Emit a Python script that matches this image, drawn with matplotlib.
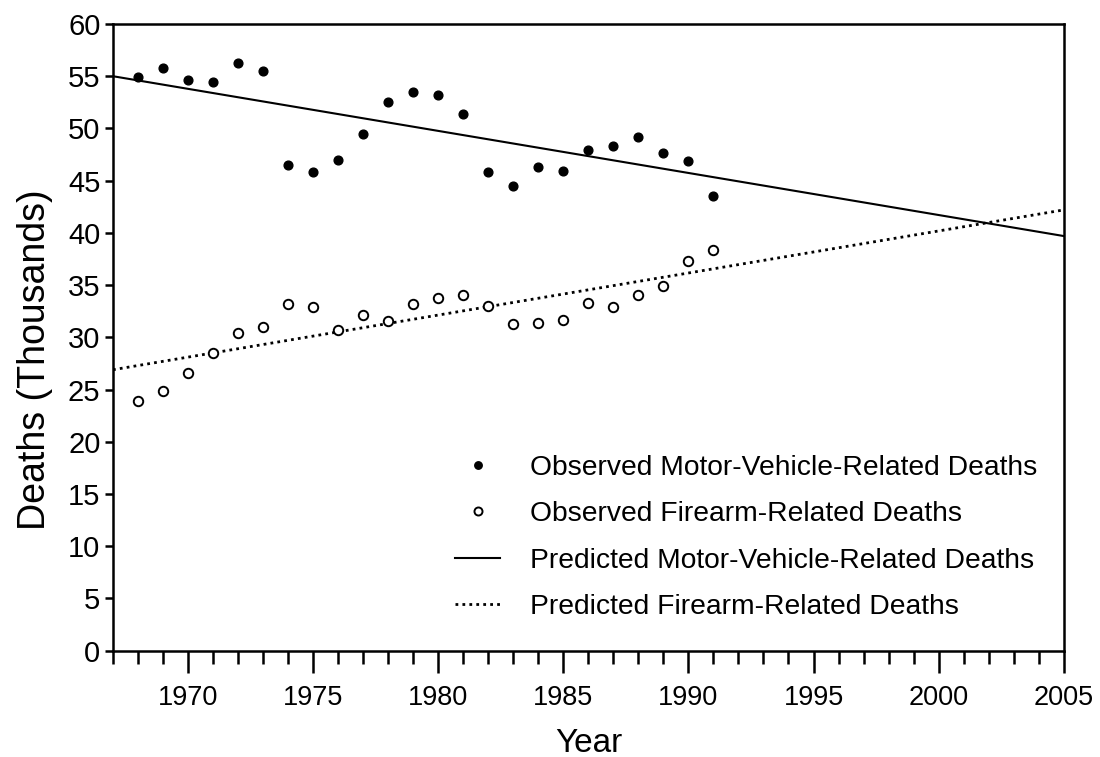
import matplotlib
matplotlib.use("Agg")
import matplotlib.pyplot as plt
from matplotlib.ticker import MultipleLocator

plt.rcParams['font.family'] = ['Liberation Sans', 'DejaVu Sans']

# observed deaths, thousands
years = list(range(1968, 1992))
motor_vehicle = [54.9, 55.75, 54.65, 54.4, 56.3, 55.5, 46.5, 45.8, 47.0, 49.5,
                 52.5, 53.5, 53.25, 51.4, 45.8, 44.5, 46.3, 45.9, 47.9, 48.3,
                 49.15, 47.65, 46.9, 43.5]
firearm = [23.9, 24.9, 26.6, 28.5, 30.4, 31.0, 33.15, 32.95, 30.75, 32.1,
           31.6, 33.15, 33.8, 34.1, 33.0, 31.3, 31.4, 31.65, 33.3, 32.9,
           34.1, 34.9, 37.3, 38.4]

# fitted trend lines, endpoints
pred_years = [1967, 2005]
pred_motor = [55.0, 39.7]
pred_firearm = [26.9, 42.2]

fig = plt.figure(figsize=(11, 7.57), dpi=100)
ax = fig.add_axes([0.1027, 0.1404, 0.8643, 0.8279])

ax.plot(years, motor_vehicle, 'o', color='black', markersize=6.3,
        linestyle='none', label='Observed Motor-Vehicle-Related Deaths', zorder=3)
ax.plot(years, firearm, 'o', markerfacecolor='white', markeredgecolor='black',
        markeredgewidth=1.4, markersize=6.8, linestyle='none',
        label='Observed Firearm-Related Deaths', zorder=3)
ax.plot(pred_years, pred_motor, color='black', linewidth=1.5,
        label='Predicted Motor-Vehicle-Related Deaths', zorder=2)
ax.plot(pred_years, pred_firearm, color='black', linewidth=2.0,
        linestyle=(0, (1, 1.5)), label='Predicted Firearm-Related Deaths', zorder=2)

ax.set_xlim(1967, 2005)
ax.set_ylim(0, 60)
ax.xaxis.set_major_locator(MultipleLocator(5))
ax.xaxis.set_minor_locator(MultipleLocator(1))
ax.yaxis.set_major_locator(MultipleLocator(5))

ax.tick_params(axis='x', which='major', direction='out', length=16, width=1.8,
               labelsize=19.5, pad=9)
ax.tick_params(axis='x', which='minor', direction='out', length=9, width=1.8)
ax.tick_params(axis='y', which='major', direction='out', length=6, width=1.8,
               labelsize=21, pad=3)
for s in ax.spines.values():
    s.set_linewidth(1.8)

ax.set_xlabel('Year', fontsize=24, labelpad=12)
ax.set_ylabel('Deaths (Thousands)', fontsize=27)
ax.yaxis.set_label_coords(-0.063, 0.464)

ax.legend(loc='upper left', bbox_to_anchor=(455 / 1100, 1 - 455 / 757),
          bbox_transform=fig.transFigure, frameon=False, fontsize=20.3,
          handlelength=1.6, handletextpad=1.05, labelspacing=0.72,
          borderpad=0, borderaxespad=0, markerscale=0.85)

fig.savefig('out.png', dpi=100)
